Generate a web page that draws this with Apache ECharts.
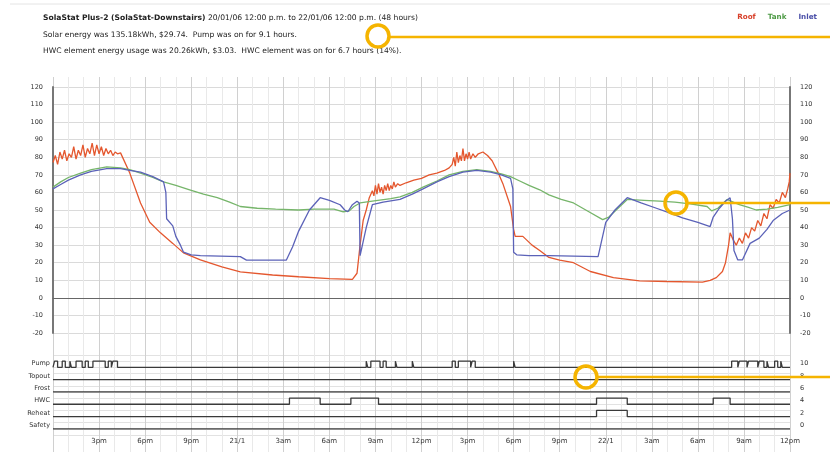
<!DOCTYPE html>
<html>
<head>
<meta charset="utf-8">
<script src="https://cdn.jsdelivr.net/npm/echarts@6/dist/echarts.min.js"></script>
<style>
  html, body { margin: 0; padding: 0; background: #fff; }
  #chart { width: 830px; height: 452px; }
</style>
</head>
<body>
<div id="chart"></div>
<script>
// hours since 20/01 12:00 pm, temperature
var roof = [[0,77],[0.15,81],[0.3,76],[0.45,83],[0.6,79],[0.75,84],[0.9,78],[1.05,82],[1.2,80],[1.35,86],[1.5,79],[1.65,84],[1.8,81],[1.95,87],[2.1,80],[2.25,85],[2.4,82],[2.55,88],[2.7,81],[2.85,87],[3.0,82],[3.15,86],[3.3,81],[3.45,85],[3.6,82],[3.75,84],[3.9,81],[4.05,83],[4.2,82],[4.4,82.5],
  [5.0,71],[5.7,54],[6.3,43],[7.0,37],[7.8,31],[8.5,25.6],[9.6,21.6],[11,17.6],[12.2,14.8],[14.3,13],[16,12],[18,11],[19.5,10.5],[19.8,14],[20.0,30],[20.2,44],[20.4,50],[20.6,57],
  [20.8,61],[20.9,58],[21.0,64],[21.1,59],[21.2,65],[21.3,60],[21.4,63],[21.5,59],[21.6,64],[21.7,61],[21.8,65],[21.9,61],[22.0,64],[22.1,62],[22.2,66],[22.3,63],[22.45,65],[22.6,64],
  [23.0,65.5],[23.5,67],[24.0,68],[24.5,70],[25.0,71],[25.5,72.5],[25.8,74],
  [26.0,76],[26.1,80],[26.2,75],[26.3,83],[26.4,77],[26.5,81],[26.6,78],[26.7,85],[26.8,78],[26.9,82],[27.0,79],[27.1,83],[27.2,79],[27.35,82],[27.5,80],[27.7,82],[28.0,83],
  [28.3,81],[28.6,78],[29.0,71],[29.3,65],[29.8,52],[30.0,39],[30.1,35],[30.6,35],[31.2,30],[31.7,27],[32.3,23],[33.0,21.5],[33.9,20],[35,15],[36.5,11.5],[38.2,9.7],[40,9.3],[42.3,9],[42.8,10],[43.2,11.5],[43.6,15],[43.8,20],[44.0,30],[44.1,37],[44.3,33],[44.5,30],
  [44.7,34],[44.9,31],[45.1,37],[45.3,34],[45.5,40],[45.7,38],[45.9,44],[46.1,41],[46.3,48],[46.5,45],[46.7,53],[46.9,51],[47.1,56],[47.3,54],[47.5,60],[47.7,57],[47.85,62],[47.95,66],[48,71]];

var tank = [[0,63],[0.5,66],[1,68.5],[1.8,71],[2.5,73],[3.5,74.5],[4.4,74],[5.0,73],[5.7,71],[6.5,68.5],[7.2,66],[8.0,64],[8.9,61.5],[9.8,59],[10.7,57],[11.5,54.5],[12.2,52],[13.3,51],[14.5,50.5],[16,50],[17,50.5],[18.3,50.5],[18.9,49],[19.3,49.5],[19.6,52],[20,54],[20.8,55],[22,56.5],[22.6,57.5],[23.4,60],[24.1,63],[25,66.5],[25.8,70],[26.7,72],[27.6,73],[28.5,72],[29.2,70.5],[29.8,69],[30.4,66.5],[31,64],[31.7,61.5],[32.3,58.6],[33.1,56],[33.9,54],[34.9,49],[35.8,44.5],[36.2,46],[36.8,51],[37.4,56],[38.5,55.5],[39.5,55],[40.5,54.5],[41.5,53.5],[42.6,52],[42.9,49.5],[43.3,51],[43.9,56],[44.3,54.5],[44.7,53],[45.3,51.5],[45.8,50],[46.5,50.5],[47.2,51.5],[48,53]];

var inlet = [[0,62],[0.5,64.5],[1,67],[1.8,70],[2.5,72],[3.5,73.5],[4.4,73.5],[5.0,72.5],[5.7,71.5],[6.5,69],[7.2,66],[7.35,60],[7.4,45],[7.8,41],[8.0,35],[8.3,30],[8.5,26],[9.0,24.5],[9.6,24],[12.2,23.5],[12.6,21.5],[15.2,21.5],[15.6,29],[16.0,38],[16.7,50],[17.4,57],[18.0,55.5],[18.7,53],[19.0,50],[19.2,49],[19.5,53],[19.8,55],[19.95,54],[20.0,24],[20.2,32],[20.4,40],[20.8,53],[21.5,54.5],[22.6,56],[23.4,59],[24.1,62],[25,66],[25.8,69],[26.7,71.5],[27.6,72.5],[28.5,71.5],[29.2,70],[29.8,68],[29.95,62],[30.0,26],[30.2,24.5],[31,24],[32.3,24],[35.5,23.5],[36.0,43],[36.6,50],[37.4,57],[38.3,54],[39.3,51],[40.1,48.5],[41,45.5],[42,43],[42.8,40.6],[43.0,46],[43.4,51],[43.8,55],[44.1,57],[44.25,45],[44.35,27],[44.6,21.6],[44.9,21.6],[45.4,31],[46,34],[46.5,39],[46.9,44],[47.5,48],[48,50]];

// on-periods for the status rows (hours)
var pumpOn = [[0.1,0.3],[0.6,0.8],[1.1,1.2],[1.5,1.9],[2.1,2.3],[2.6,3.4],[3.6,3.8],[3.9,4.2],[20.4,20.5],[20.7,21.3],[21.5,21.7],[22.3,22.4],[23.4,23.5],[26.0,26.2],[26.4,27.2],[27.3,27.5],[30.0,30.1],[44.2,44.6],[44.7,45.2],[45.3,45.9],[46.0,46.3],[46.5,46.6],[47.0,47.2],[47.4,47.5]];
var topoutOn = [];
var frostOn = [];
var hwcOn = [[15.4,17.4],[19.4,21.2],[35.4,37.4],[43.0,44.1]];
var reheatOn = [[35.4,37.4]];
var safetyOn = [];

var statusRows = ['Safety', 'Reheat', 'HWC', 'Frost', 'Topout', 'Pump'];
var xLabels = ['', '3pm', '6pm', '9pm', '21/1', '3am', '6am', '9am', '12pm', '3pm', '6pm', '9pm', '22/1', '3am', '6am', '9am', '12pm'];

function stepLine(base, periods) {
  var pts = [[0, base]];
  periods.forEach(function (p) {
    pts.push([p[0], base], [p[0], base + 1], [p[1], base + 1], [p[1], base]);
  });
  pts.push([48, base]);
  return pts;
}

var FONT = 'DejaVu Sans';
var chart = echarts.init(document.getElementById('chart'));

var statusSeries = [
  ['Pump', 10, pumpOn], ['Topout', 8, topoutOn], ['Frost', 6, frostOn],
  ['HWC', 4, hwcOn], ['Reheat', 2, reheatOn], ['Safety', 0, safetyOn]
].map(function (r) {
  return {
    name: r[0], type: 'line', xAxisIndex: 2, yAxisIndex: 3,
    data: stepLine(r[1], r[2]), showSymbol: false, silent: true,
    lineStyle: { color: '#3a3a3a', width: 1.3 }
  };
});

function lineSeries(name, data, color) {
  return {
    name: name, type: 'line', xAxisIndex: 1, yAxisIndex: 1,
    data: data, showSymbol: false, lineStyle: { color: color, width: 1.3 },
    itemStyle: { color: color }
  };
}

chart.setOption({
  animation: false,
  backgroundColor: '#fff',
  textStyle: { fontFamily: FONT },
  title: {
    left: 43, top: 10, padding: 0,
    text: '{b|SolaStat Plus-2 (SolaStat-Downstairs)} 20/01/06 12:00 p.m. to 22/01/06 12:00 p.m. (48 hours)\n' +
          'Solar energy was 135.18kWh, $29.74.  Pump was on for 9.1 hours.\n' +
          'HWC element energy usage was 20.26kWh, $3.03.  HWC element was on for 6.7 hours (14%).',
    textStyle: {
      fontFamily: FONT, fontSize: 7.6, fontWeight: 'normal', color: '#222', lineHeight: 16.5,
      rich: { b: { fontFamily: FONT, fontSize: 7.6, fontWeight: 'bold', color: '#222', lineHeight: 16.5 } }
    }
  },
  legend: {
    right: 8, top: 9, itemWidth: 0, itemHeight: 0, itemGap: 7, icon: 'rect',
    selectedMode: false,
    data: [
      { name: 'Roof', textStyle: { color: '#d8402a' } },
      { name: 'Tank', textStyle: { color: '#4d9a45' } },
      { name: 'Inlet', textStyle: { color: '#4a4fa8' } }
    ],
    textStyle: { fontFamily: FONT, fontSize: 7.2, fontWeight: 'bold' }
  },
  grid: [
    { left: 53, right: 40, top: 77, bottom: 0 },
    { left: 53, right: 40, top: 87, height: 246 },
    { left: 53, right: 40, top: 355, bottom: 17 }
  ],
  xAxis: [
    { gridIndex: 0, type: 'value', min: 0, max: 48, interval: 3,
      axisLine: { show: false }, axisTick: { show: false }, axisLabel: { show: false },
      splitLine: { lineStyle: { color: '#d0d0d0', width: 1 } },
      minorTick: { show: false, splitNumber: 3 },
      minorSplitLine: { show: true, lineStyle: { color: '#e9e9e9', width: 1 } } },
    { gridIndex: 1, type: 'value', min: 0, max: 48, interval: 3,
      axisLine: { show: true, onZero: true, lineStyle: { color: '#666', width: 1.2 } },
      axisTick: { show: false }, axisLabel: { show: false }, splitLine: { show: false } },
    { gridIndex: 2, type: 'value', min: 0, max: 48, interval: 3,
      axisLine: { show: false }, axisTick: { show: false }, splitLine: { show: false },
      axisLabel: { fontFamily: FONT, fontSize: 7, color: '#333', margin: 3,
        formatter: function (v) { return xLabels[Math.round(v / 3)]; } } }
  ],
  yAxis: [
    { gridIndex: 0, type: 'value', min: 0, max: 1, show: false, splitLine: { show: false } },
    { gridIndex: 1, type: 'value', min: -20, max: 120, interval: 10, position: 'left',
      axisLine: { show: true, lineStyle: { color: '#777', width: 2 } }, axisTick: { show: false },
      axisLabel: { fontFamily: FONT, fontSize: 6.5, color: '#333', margin: 10 },
      splitLine: { lineStyle: { color: '#dadada', width: 1 } } },
    { gridIndex: 1, type: 'value', min: -20, max: 120, interval: 10, position: 'right',
      axisLine: { show: true, lineStyle: { color: '#777', width: 2 } }, axisTick: { show: false },
      axisLabel: { fontFamily: FONT, fontSize: 6.5, color: '#333', margin: 10 },
      splitLine: { show: false } },
    { gridIndex: 2, type: 'value', min: -1, max: 12, interval: 1, position: 'left',
      axisLine: { show: false }, axisTick: { show: false },
      axisLabel: { fontFamily: FONT, fontSize: 6.5, color: '#333', margin: 3, verticalAlign: 'bottom',
        formatter: function (v) { return (v >= 0 && v % 2 === 0 && v <= 10) ? statusRows[v / 2] : ''; } },
      splitLine: { lineStyle: { color: '#e2e2e2', width: 1 } } },
    { gridIndex: 2, type: 'value', min: -1, max: 12, interval: 1, position: 'right',
      axisLine: { show: false }, axisTick: { show: false },
      axisLabel: { fontFamily: FONT, fontSize: 6.5, color: '#333', margin: 10, verticalAlign: 'bottom',
        formatter: function (v) { return (v >= 0 && v % 2 === 0 && v <= 10) ? String(v) : ''; } },
      splitLine: { show: false } }
  ],
  series: [
    lineSeries('Roof', roof, '#e4572e'),
    lineSeries('Tank', tank, '#76b56a'),
    lineSeries('Inlet', inlet, '#5b62b8')
  ].concat(statusSeries),
  graphic: [
    { type: 'line', shape: { x1: 10, y1: 4, x2: 830, y2: 4 }, style: { stroke: '#e4e4e4', lineWidth: 1 } },
    { type: 'circle', shape: { cx: 378, cy: 36, r: 11 }, style: { fill: 'none', stroke: '#f5b400', lineWidth: 3.5 }, z: 100 },
    { type: 'line', shape: { x1: 389, y1: 37, x2: 830, y2: 37 }, style: { stroke: '#f5b400', lineWidth: 2.5 }, z: 100 },
    { type: 'circle', shape: { cx: 676, cy: 203, r: 11 }, style: { fill: 'none', stroke: '#f5b400', lineWidth: 3.5 }, z: 100 },
    { type: 'line', shape: { x1: 687, y1: 203, x2: 830, y2: 203 }, style: { stroke: '#f5b400', lineWidth: 2.5 }, z: 100 },
    { type: 'circle', shape: { cx: 586, cy: 377, r: 11 }, style: { fill: 'none', stroke: '#f5b400', lineWidth: 3.5 }, z: 100 },
    { type: 'line', shape: { x1: 597, y1: 377, x2: 830, y2: 377 }, style: { stroke: '#f5b400', lineWidth: 2.5 }, z: 100 }
  ]
});
</script>
</body>
</html>
